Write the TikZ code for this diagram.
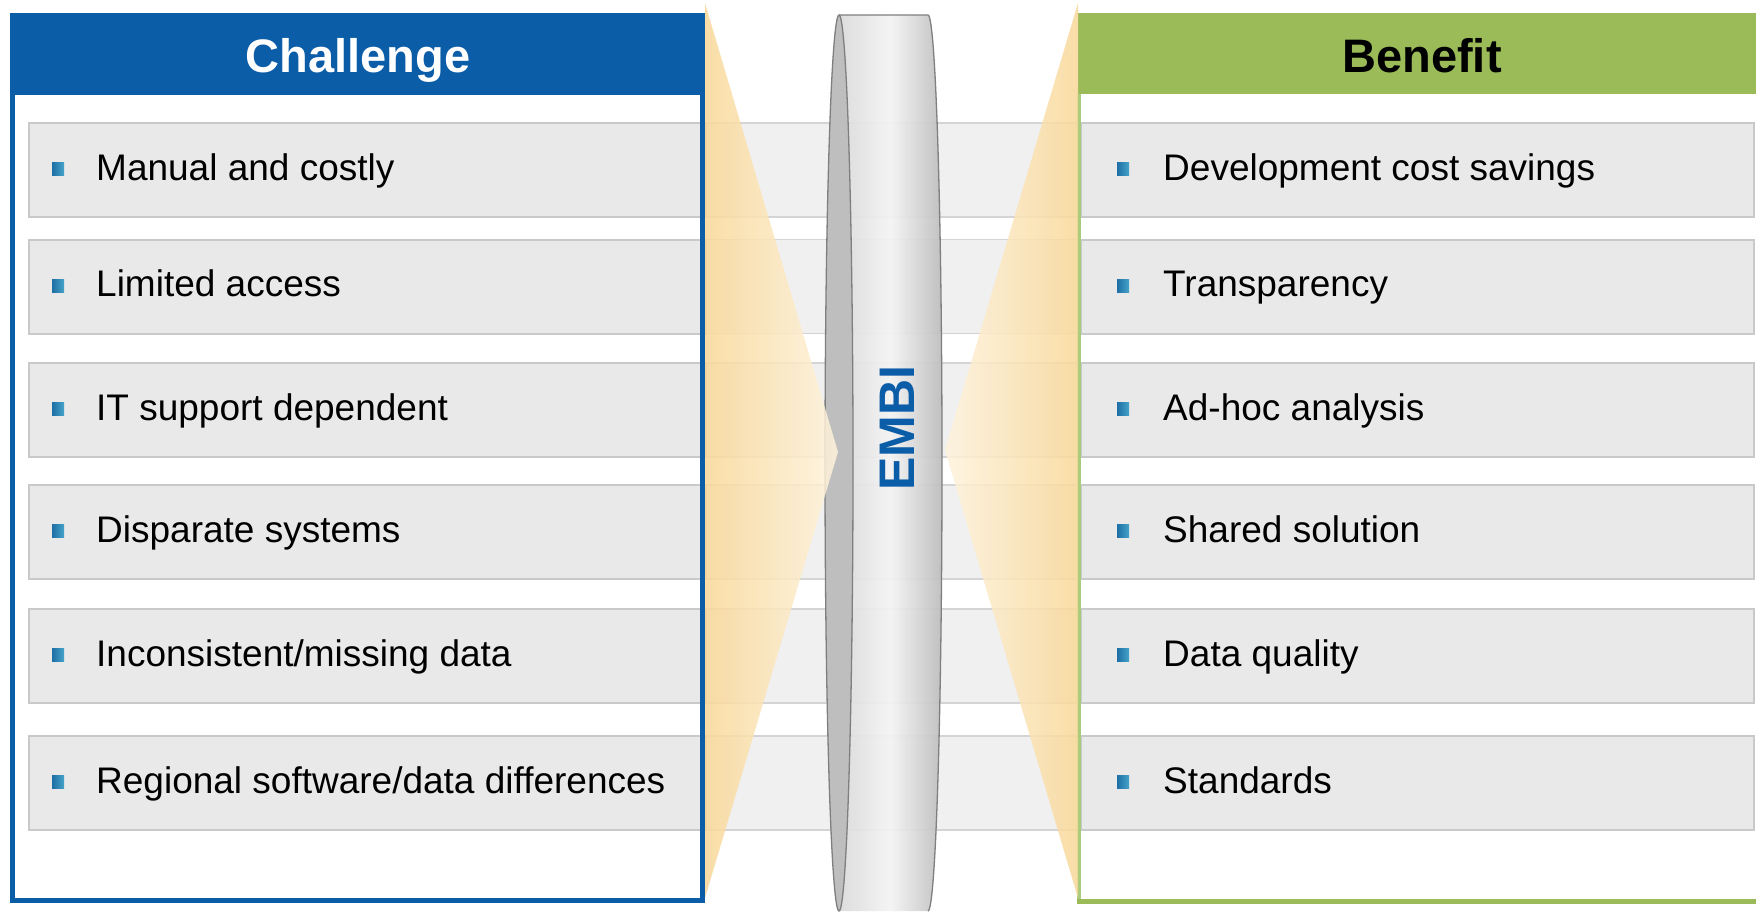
\documentclass[tikz,border=0pt]{standalone}
\usepackage{fontspec}
\setmainfont{Liberation Sans}
\definecolor{cblue}{HTML}{0B5DA8}
\definecolor{cgreen}{HTML}{9BBB59}
\definecolor{cgreenl}{HTML}{A8CB7C}
\definecolor{bandc}{HTML}{F0F0F0}
\definecolor{bandline}{HTML}{D4D4D4}
\definecolor{rowc}{HTML}{E9E9E9}
\definecolor{rowline}{HTML}{C9C9C9}
\definecolor{bulA}{HTML}{1D6FA5}
\definecolor{bulB}{HTML}{45A3C8}
\definecolor{coneA}{HTML}{F9D898}
\definecolor{coneB}{HTML}{FEF3DD}
\definecolor{cylA}{HTML}{DADADA}
\definecolor{cylB}{HTML}{F4F4F4}
\definecolor{cylC}{HTML}{BDBDBD}
\definecolor{lensc}{HTML}{BEBEBE}
\definecolor{cyledge}{HTML}{7F7F7F}
\begin{document}
\begin{tikzpicture}[x=1pt,y=-1pt,
  band/.style={fill=bandc, draw=bandline, line width=1.5, inner sep=0, anchor=north west},
  rowbox/.style={fill=rowc, draw=rowline, line width=2, inner sep=0, anchor=north west},
  bul/.style={minimum width=12, minimum height=13, inner sep=0, left color=bulA, right color=bulB},
  itemtext/.style={anchor=base west, font=\fontsize{37}{44}\selectfont, inner sep=0},
  head/.style={anchor=base, font=\bfseries\fontsize{47}{56}\selectfont, inner sep=0}]
\useasboundingbox (0,0) rectangle (1756,911);
\fill[white] (0,0) rectangle (1756,911);
% bands and row boxes
\foreach \i/\c in {1/169,2/285.5,3/409,4/531,5/655,6/782}{
  \node[band, minimum width=1725, minimum height=94] (band\i) at (28,\c-47) {};
  \node[rowbox, minimum width=677, minimum height=94] (lrow\i) at (28,\c-47) {};
  \node[rowbox, minimum width=673, minimum height=94] (rrow\i) at (1080,\c-47) {};
  \node[bul] (lbul\i) at (58,\c) {};
  \node[bul] (rbul\i) at (1123,\c) {};
}
% left panel
\fill[cblue] (10,13) rectangle (705,95);
\draw[cblue, line width=5] (12.5,95) -- (12.5,900.5) -- (702.5,900.5) -- (702.5,95);
\node[head, text=white] (hchal) at (358,72) {Challenge};
% right panel
\fill[cgreen] (1078,13) rectangle (1760,94);
\draw[cgreenl, line width=4] (1079,94) -- (1079,901);
\draw[cgreen, line width=5] (1077,901.5) -- (1760,901.5);
\node[head, text=black] (hben) at (1422,72) {Benefit};
% texts
\node[itemtext] (lt1) at (96,180) {Manual and costly};
\node[itemtext] (lt2) at (96,296.5) {Limited access};
\node[itemtext] (lt3) at (96,420) {IT support dependent};
\node[itemtext] (lt4) at (96,542) {Disparate systems};
\node[itemtext] (lt5) at (96,666) {Inconsistent/missing data};
\node[itemtext] (lt6) at (96,793) {Regional software/data differences};
\node[itemtext] (rt1) at (1163,180) {Development cost savings};
\node[itemtext] (rt2) at (1163,296.5) {Transparency};
\node[itemtext] (rt3) at (1163,420) {Ad-hoc analysis};
\node[itemtext] (rt4) at (1163,542) {Shared solution};
\node[itemtext] (rt5) at (1163,666) {Data quality};
\node[itemtext] (rt6) at (1163,793) {Standards};
% cylinder
\shade[left color=cylA, right color=cylC, middle color=cylB, fill opacity=0.93]
  (839,15) -- (928,15) arc[start angle=-90, end angle=90, x radius=14, y radius=448]
  -- (839,911) arc[start angle=90, end angle=-90, x radius=14, y radius=448] -- cycle;
\draw[cyledge, line width=1.3]
  (839,15) -- (928,15) arc[start angle=-90, end angle=90, x radius=14, y radius=448];
\draw[cyledge, line width=1.3, fill=lensc] (839,463) ellipse[x radius=14, y radius=448];
\node[rotate=90, text=cblue, font=\bfseries\fontsize{50}{50}\selectfont, inner sep=0] (embi) at (897,428) {EMBI};
% cones
\shade[left color=coneA, right color=coneB, fill opacity=0.85] (705,3) -- (838,452) -- (705,898) -- cycle;
\shade[left color=coneB, right color=coneA, fill opacity=0.85] (1078,3) -- (945,450) -- (1078,898) -- cycle;
\end{tikzpicture}
\end{document}
